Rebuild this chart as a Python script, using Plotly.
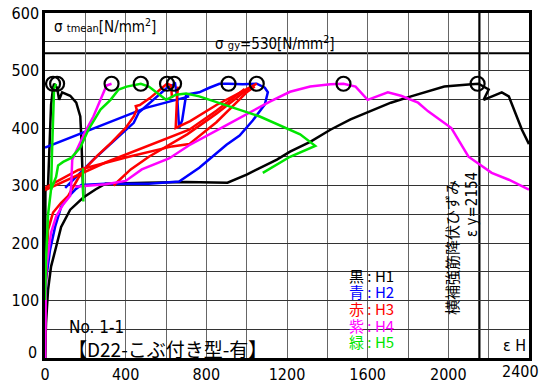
import plotly.graph_objects as go

# ---------------- data (strain [μ], stress [N/mm2]) ----------------
black_x = [0, 2, 15, 20, 30, 40, 45, 60, 70, 85, 125, 155, 175, 180, 185, 190, None,
           0, 5, 15, 30, 55, 80, 125, 180, 190, 250, 300, 500, 700, 905, 1000, 1150, 1215, 1315,
           1415, 1515, 1615, 1715, 1815, 1915, 1980, 2115, 2150, 2200, 2175, 2265, 2300, 2365, 2400]
black_y = [0, 290, 300, 360, 440, 470, 477, 470, 449, 462, 456, 444, 420, 385, 328, 279, None,
           0, 60, 118, 159, 193, 228, 258, 275, 279, 293, 303, 305, 306, 305, 319, 345, 359, 376,
           397, 415, 429, 444, 455, 465, 472, 476, 477, 467, 449, 462, 455, 397, 372]

blue_x = [0, 5, 25, 50, 80, 115, 150, 180, 300, 515, 665, 765, 900, 965, 1030, 1090, 1105, 1090,
          1050, 980, 910, 865, 815, 765, 700, 680, 665, 655, 645, 605, 465, 440, 240, 100, None,
          0, 250, 500, 715]
blue_y = [0, 136, 188, 228, 263, 280, 293, 301, 303, 303, 307, 331, 371, 387, 413, 441, 462, 470,
          477, 476, 477, 477, 470, 462, 458, 413, 400, 456, 477, 470, 427, 409, 345, 296, None,
          366, 400, 435, 455]

red_x = [0, 3, 10, 15, 40, 80, 115, 140, 165, 200, 260, 330, 400, 440, 455, 450, 470, 520, 570,
         605, 625, 630, None,
         660, 655, 648, 720, 850, 1000, 1050, None,
         0, 165, 415, 630, 715, 850, 1000, 1040, None,
         0, 300, 715, 850, 990, None,
         340, 425, 515, 705, 850, 1015]
red_y = [0, 120, 183, 223, 253, 270, 282, 298, 313, 330, 352, 375, 400, 420, 432, 438, 440, 452, 466,
         477, 474, 452, None,
         472, 455, 400, 412, 440, 468, 477, None,
         296, 327, 350, 368, 372, 410, 462, 472, None,
         292, 340, 397, 430, 468, None,
         300, 328, 350, 389, 425, 470]

magenta_x = [0, 5, 30, 55, 90, 125, 130, 135, 200, 240, 305, 330, None,
             150, 300, 400, 480, 615, 715, 900, 1015, 1115, 1215, 1315, 1415, 1480, 1540, 1600,
             1700, 1765, 1850, 1900, 2015, 2100, 2215, 2300, 2400]
magenta_y = [0, 153, 218, 246, 267, 282, 300, 345, 394, 420, 474, 477, None,
             298, 302, 308, 328, 347, 370, 405, 427, 446, 463, 472, 476, 477, 472, 449,
             462, 456, 444, 429, 400, 350, 322, 310, 293]

green_x = [0, 5, 15, 25, 30, 35, 40, 45, 55, None,
           30, 55, 65, 90, 130, 175, 215, 275, 325, 365, 405, 475, 515, 565, 600, 650, 700, 765,
           965, 1065, 1265, 1340, 1215, 1080, None,
           188, 190]
green_y = [101, 171, 249, 275, 293, 360, 430, 468, 477, None,
           293, 315, 335, 341, 348, 366, 397, 432, 449, 467, 472, 477, 472, 458, 449, 458, 460, 455,
           432, 420, 389, 369, 350, 322, None,
           330, 272]

peak_x = [40, 60, 330, 475, 605, 640, 910, 1050, 1480, 2145]
peak_y = [477, 477, 477, 477, 477, 477, 477, 477, 477, 477]

SIGMA_GY = 530
EPS_Y = 2154

x_ticks = list(range(0, 2401, 200))
x_ticktext = [str(v) if (v % 400 == 0 and v < 2400) else "" for v in x_ticks]
x_last_label = "2400"
y_ticks = list(range(0, 601, 50))
y_ticktext = [str(v) if (v % 100 == 0 and v > 0) else "" for v in y_ticks]
y_first_label = "0"

legend_items = [("黒", "H1", "#000000"), ("青", "H2", "#0000ff"), ("赤", "H3", "#ff0000"),
                ("紫", "H4", "#ff00ff"), ("緑", "H5", "#00e600")]

# ---------------- figure ----------------
NUM_FONT = "Liberation Sans Narrow, Arial Narrow, DejaVu Sans Condensed, sans-serif"
JP_FONT = "Noto Sans CJK JP, sans-serif"

fig = go.Figure()
series = [(black_x, black_y, "#000000"), (blue_x, blue_y, "#0000ff"), (red_x, red_y, "#ff0000"),
          (magenta_x, magenta_y, "#ff00ff"), (green_x, green_y, "#00e600")]
for xs, ys, col in series:
    fig.add_trace(go.Scatter(x=xs, y=ys, mode="lines", line=dict(color=col, width=2.5),
                             connectgaps=False, showlegend=False, hoverinfo="skip"))

fig.add_trace(go.Scatter(x=peak_x, y=peak_y, mode="markers",
                         marker=dict(symbol="circle-open", size=14, color="black",
                                     line=dict(width=2.2, color="black")),
                         showlegend=False, hoverinfo="skip"))

W, H = 544, 383
L, R, T, B = 45, 15, 13, 25
pw, ph = W - L - R, H - T - B


def px2paper(px, py):
    return (px - L) / pw, (H - B - py) / ph


def white_box(x0, y0, x1, y1):
    ax0, ay1 = px2paper(x0, y0)
    ax1, ay0 = px2paper(x1, y1)
    fig.add_shape(type="rect", xref="paper", yref="paper", x0=ax0, x1=ax1, y0=ay0, y1=ay1,
                  fillcolor="white", line=dict(width=0), layer="between")


white_box(47, 15, 150, 38)      # sigma tmean label
white_box(216, 36, 334, 50)     # sigma gy label
white_box(344, 265, 401, 351)   # legend
white_box(443, 176, 460, 321)   # vertical jp text
white_box(465, 174, 478, 237)   # eps y
white_box(65, 317, 268, 356)    # No. label
white_box(503, 335, 527, 356)   # eps H

# reference lines
fig.add_shape(type="line", xref="paper", yref="y", x0=0, x1=1, y0=SIGMA_GY, y1=SIGMA_GY,
              line=dict(color="black", width=2.2), layer="between")
fig.add_shape(type="line", xref="x", yref="paper", x0=EPS_Y, x1=EPS_Y, y0=0, y1=1,
              line=dict(color="black", width=2.2), layer="between")


def ann(px, py, text, size, color="black", xanchor="center", angle=0, family=JP_FONT):
    ax, ay = px2paper(px, py)
    fig.add_annotation(xref="paper", yref="paper", x=ax, y=ay, text=text, showarrow=False,
                       xanchor=xanchor, yanchor="middle", textangle=angle,
                       font=dict(size=size, color=color, family=family))


ann(52, 26, "σ <span style='font-size:11px'>tmean</span>[N/mm<sup>2</sup>]", 15, xanchor="left",
    family=NUM_FONT)
ann(275, 43, "σ <span style='font-size:11px'>gy</span>=530[N/mm<sup>2</sup>]", 15,
    family=NUM_FONT)

for i, (kanji, label, col) in enumerate(legend_items):
    ann(347, 275 + i * 16.7, f"{kanji} : {label}", 15, color=col, xanchor="left")

ann(451, 248, "横補強筋降伏ひずみ", 15, angle=-90)
ann(472, 205, "ε y=2154", 15, angle=-90, family=NUM_FONT)
ann(67, 327, "No. 1-1", 17, xanchor="left", family=NUM_FONT)
ann(66, 348, "【D22-こぶ付き型-有】", 19, xanchor="left")
ann(514, 345, "ε H", 16, family=NUM_FONT)
# edge tick labels (shifted inside like the reference)
ann(520, 371, x_last_label, 16, family=NUM_FONT)
ann(32, 352, y_first_label, 16, family=NUM_FONT)

fig.update_layout(
    width=W, height=H, margin=dict(l=L, r=R, t=T, b=B, autoexpand=False),
    paper_bgcolor="white", plot_bgcolor="white",
    xaxis=dict(range=[0, 2400], tickvals=x_ticks, ticktext=x_ticktext, showgrid=True,
               gridcolor="#666666", gridwidth=1.3, zeroline=False, showline=True,
               linecolor="black", linewidth=2.5, mirror=True, ticks="", automargin=False,
               tickfont=dict(family=NUM_FONT, size=16, color="black")),
    yaxis=dict(range=[0, 600], tickvals=y_ticks, ticktext=y_ticktext, showgrid=True,
               gridcolor="#333333", gridwidth=1, zeroline=False, showline=True,
               linecolor="black", linewidth=2.5, mirror=True, ticks="", automargin=False,
               tickfont=dict(family=NUM_FONT, size=16, color="black")),
)

fig.write_html("out.html", config={"displayModeBar": False},
               post_script="document.body.style.margin='0';")
